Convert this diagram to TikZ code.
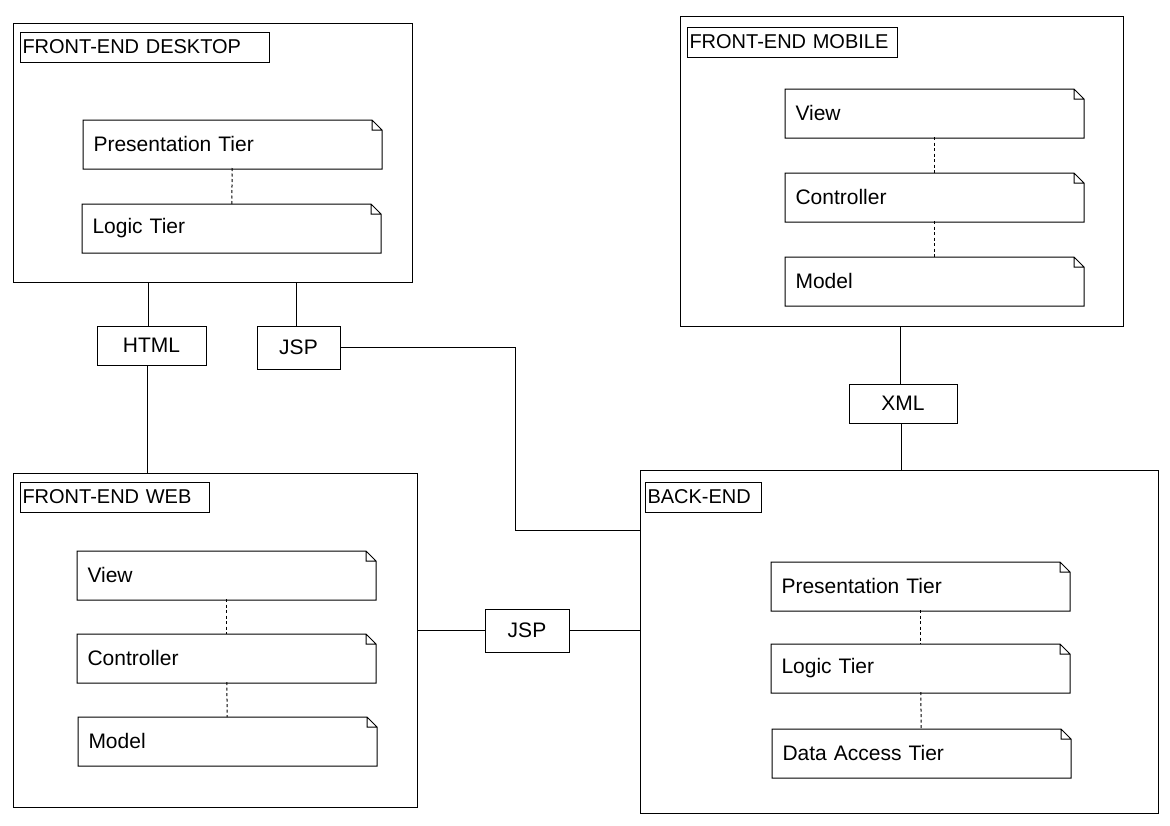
\documentclass[tikz,border=0pt]{standalone}
\usepackage{fontspec}
\setmainfont{Liberation Sans}

\begin{document}
\begin{tikzpicture}[x=1pt,y=-1pt,line width=1pt,
  font=\fontsize{21}{24}\selectfont,
  every node/.style={inner sep=0pt,outer sep=0pt,anchor=north west},
  part/.style={draw},
  ttl/.style={draw,minimum height=30pt,inner xsep=2.5pt,align=left,
    font=\fontsize{20}{24}\selectfont},
  tier/.style={minimum height=48pt,text width=278pt,inner xsep=10.5pt,align=left},
  proto/.style={draw},
  dep/.style={line width=1pt,dash pattern=on 3pt off 2.5pt}]

\useasboundingbox (0,0) rectangle (1170,825);

% packages
\node[part,minimum width=399pt,minimum height=259pt] (desk) at (13,23)  {};
\node[part,minimum width=443pt,minimum height=310pt] (mob)  at (680,16) {};
\node[part,minimum width=404pt,minimum height=334pt] (web)  at (13,473) {};
\node[part,minimum width=518pt,minimum height=343pt] (back) at (640,470) {};

\node[ttl,text width=244pt] (deskt) at (20,32)  {FRONT-END DESKTOP};
\node[ttl,text width=205pt] (mobt)  at (687,27) {FRONT-END MOBILE};
\node[ttl,text width=184pt] (webt)  at (20,482) {FRONT-END WEB};
\node[ttl,text width=111pt] (backt) at (645,482) {BACK-END};

% tiers
\node[tier] (dpt) at (83,120)  {Presentation Tier};
\node[tier] (dlt) at (82,204)  {Logic Tier};
\node[tier] (mv)  at (785,89)  {View};
\node[tier] (mc)  at (785,173) {Controller};
\node[tier] (mm)  at (785,257) {Model};
\node[tier] (wv)  at (77,551)  {View};
\node[tier] (wc)  at (77,634)  {Controller};
\node[tier] (wm)  at (78,717)  {Model};
\node[tier] (bpt) at (771,562) {Presentation Tier};
\node[tier] (blt) at (771,644) {Logic Tier};
\node[tier] (bda) at (772,729) {Data Access Tier};

\foreach \n in {dpt,dlt,mv,mc,mm,wv,wc,wm,bpt,blt,bda}
  \draw ([yshift=-1pt]\n.south west) -- ([yshift=-1pt]\n.south east) -- ([yshift=-10pt]\n.north east)
        -- ([xshift=-10pt]\n.north east) -- (\n.north west) -- cycle
        ([xshift=-10pt]\n.north east) -- ([xshift=-10pt,yshift=-10pt]\n.north east)
        -- ([yshift=-10pt]\n.north east);

\draw[dep] (dpt) -- (dlt);
\draw[dep] (mv) -- (mc);
\draw[dep] (mc) -- (mm);
\draw[dep] (wv) -- (wc);
\draw[dep] (wc) -- (wm);
\draw[dep] (bpt) -- (blt);
\draw[dep] (blt) -- (bda);

% protocols
\node[proto,minimum width=109pt,minimum height=39pt] (html) at (97,326)  {HTML};
\node[proto,minimum width=83pt,minimum height=43pt]  (jspa) at (257,326) {JSP};
\node[proto,minimum width=84pt,minimum height=43pt]  (jspb) at (485,609) {JSP};
\node[proto,minimum width=108pt,minimum height=39pt] (xml)  at (849,384) {XML};

\coordinate (jbend) at (515,530);

\draw ([xshift=-3pt]html.north) -- ([xshift=-3pt]html.north |- desk.south);
\draw ([xshift=-4pt]html.south) -- ([xshift=-4pt]html.south |- web.north);
\draw ([xshift=-2pt]jspa.north) -- ([xshift=-2pt]jspa.north |- desk.south);
\draw (jspa.east) -| (jbend) -- (jbend -| back.west);
\draw (jspb.west) -- (jspb.west -| web.east);
\draw (jspb.east) -- (jspb.east -| back.west);
\draw ([xshift=-3pt]xml.north) -- ([xshift=-3pt]xml.north |- mob.south);
\draw ([xshift=-2pt]xml.south) -- ([xshift=-2pt]xml.south |- back.north);

\end{tikzpicture}
\end{document}
